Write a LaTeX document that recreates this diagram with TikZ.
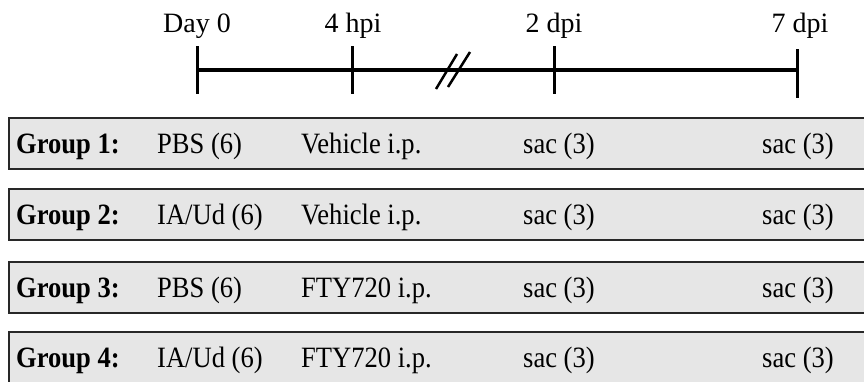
\documentclass[tikz,border=0pt]{standalone}
\usepackage{fontspec}
\setmainfont{Liberation Serif}
\newfontfamily\rowfont{Liberation Serif}[FakeStretch=0.9]
\definecolor{boxgray}{RGB}{230,230,230}
\definecolor{boxline}{RGB}{40,40,40}
\begin{document}
\begin{tikzpicture}[x=1pt,y=-1pt,
  lab/.style={anchor=base, inner sep=0pt, font=\fontsize{28}{30}\selectfont},
  cell/.style={anchor=base west, inner sep=0pt, font=\rowfont\fontsize{29.5}{32}\selectfont},
  grp/.style={anchor=base west, inner sep=0pt, font=\rowfont\bfseries\fontsize{29.5}{32}\selectfont},
  gbox/.style={fill=boxgray, draw=boxline, line width=1.6pt},
  axisline/.style={line width=4pt},
  tickline/.style={line width=3pt},
  breakline/.style={line width=2.5pt}]
\useasboundingbox (0,0) rectangle (864,381);
\clip (0,0) rectangle (864,381);

% timeline labels
\node[lab] (l0) at (197,32) {Day 0};
\node[lab] (l1) at (353,32) {4 hpi};
\node[lab] (l2) at (554,32) {2 dpi};
\node[lab] (l3) at (800,32) {7 dpi};

% timeline
\coordinate (a0) at (197,70);
\coordinate (a3) at (797,70);
\draw[axisline] (a0) -- (a3);
\coordinate (t0a) at (197,46); \coordinate (t0b) at (197,94);
\coordinate (t1a) at (352,46); \coordinate (t1b) at (352,94);
\coordinate (t2a) at (554,46); \coordinate (t2b) at (554,94);
\coordinate (t3a) at (797,49); \coordinate (t3b) at (797,98);
\draw[tickline] (t0a) -- (t0b);
\draw[tickline] (t1a) -- (t1b);
\draw[tickline] (t2a) -- (t2b);
\draw[tickline] (t3a) -- (t3b);
\coordinate (s1a) at (436,89); \coordinate (s1b) at (457,54);
\coordinate (s2a) at (448,87); \coordinate (s2b) at (470,52);
\draw[breakline] (s1a) -- (s1b);
\draw[breakline] (s2a) -- (s2b);

% group rows
\foreach \i/\y/\inj/\trt in {1/118/PBS (6)/Vehicle i.p., 2/189/IA\slash Ud (6)/Vehicle i.p., 3/262/PBS (6)/FTY720 i.p., 4/332/IA\slash Ud (6)/FTY720 i.p.}{
  \draw[gbox] (9,\y) rectangle (880,\y+51);
  \node[grp]  (g\i)  at (16,\y+35)  {Group \i:};
  \node[cell] (inj\i) at (157,\y+35) {\inj};
  \node[cell] (trt\i) at (301,\y+35) {\trt};
  \node[cell] (sa\i)  at (523,\y+35) {sac (3)};
  \node[cell] (sb\i)  at (762,\y+35) {sac (3)};
}
\end{tikzpicture}
\end{document}
